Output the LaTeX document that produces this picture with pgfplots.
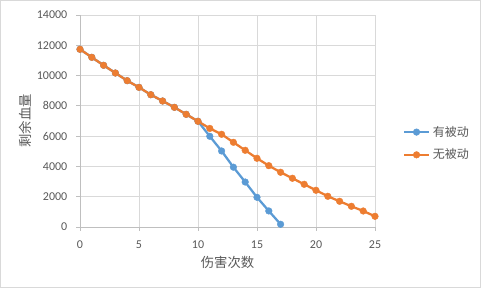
\documentclass[border=0pt]{standalone}
\usepackage{pgfplots}
\pgfplotsset{compat=1.18}
\usepackage{fontspec}
\setmainfont{Carlito}
\newfontfamily\cjk{Noto Sans CJK SC}
\definecolor{txt}{HTML}{595959}
\definecolor{gridc}{HTML}{D9D9D9}
\definecolor{axc}{HTML}{BFBFBF}
\definecolor{sblue}{HTML}{5B9BD5}
\definecolor{sorange}{HTML}{ED7D31}
\begin{document}
\begin{tikzpicture}
\fill[white] (0pt,0pt) rectangle (360.75pt,216pt);
\begin{axis}[
  at={(60pt,45.75pt)}, anchor=south west,
  scale only axis, width=221.25pt, height=159pt,
  xmin=0, xmax=25, ymin=0, ymax=14000,
  xtick={0,5,...,25}, ytick={0,2000,...,14000},
  scaled y ticks=false, scaled x ticks=false,
  grid=major, grid style={gridc, line width=0.6pt},
  axis lines=left, axis line style={-, axc, line width=0.6pt},
  tick style={axc, line width=0.6pt}, tick align=outside, major tick length=3pt,
  /pgf/number format/assume math mode=true,
  /pgf/number format/1000 sep={},
  ticklabel style={font=\fontsize{9}{10}\selectfont, text=txt},
  xticklabel style={yshift=-4pt},
  yticklabel style={xshift=-3pt},
  xlabel={\cjk 伤害次数}, ylabel={\cjk 剩余血量},
  label style={font=\fontsize{10}{12}\selectfont, text=txt},
  xlabel style={at={(axis description cs:0.5,-0.165)}, anchor=center},
  ylabel style={at={(axis description cs:-0.186,0.5)}, anchor=center},
  legend style={at={(axis description cs:1.08,0.394)}, anchor=west, draw=none, fill=none,
    font=\cjk\fontsize{9}{11}\selectfont, text=txt, row sep=4pt},
  legend cell align=left,
  legend image code/.code={\draw[mark repeat=2,mark phase=2,#1] plot coordinates {(0pt,0pt) (9.4pt,0pt) (18.8pt,0pt)};},
]
\addplot[sblue, line width=1.7pt, mark=*, mark size=2.5pt, mark options={solid, fill=sblue, draw=sblue, line width=0.3pt}] coordinates {
(0,11735) (1,11206) (2,10678) (3,10170) (4,9662) (5,9222) (6,8736) (7,8320) (8,7903) (9,7441) (10,6980)
(11,5990) (12,5020) (13,3950) (14,2970) (15,1960) (16,1060) (17,180)};
\addlegendentry{有被动}
\addplot[sorange, line width=1.7pt, mark=*, mark size=2.5pt, mark options={solid, fill=sorange, draw=sorange, line width=0.3pt}] coordinates {
(0,11735) (1,11206) (2,10678) (3,10170) (4,9662) (5,9222) (6,8736) (7,8320) (8,7903) (9,7441) (10,6980)
(11,6510) (12,6122) (13,5593) (14,5065) (15,4537) (16,4050) (17,3614) (18,3218) (19,2820) (20,2424)
(21,2028) (22,1697) (23,1367) (24,1057) (25,706)};
\addlegendentry{无被动}
\end{axis}
\draw[gridc, line width=0.75pt] (0.375pt,0.375pt) rectangle (360.375pt,215.625pt);
\pgfresetboundingbox
\useasboundingbox (0pt,0pt) rectangle (360.75pt,216pt);
\end{tikzpicture}
\end{document}
